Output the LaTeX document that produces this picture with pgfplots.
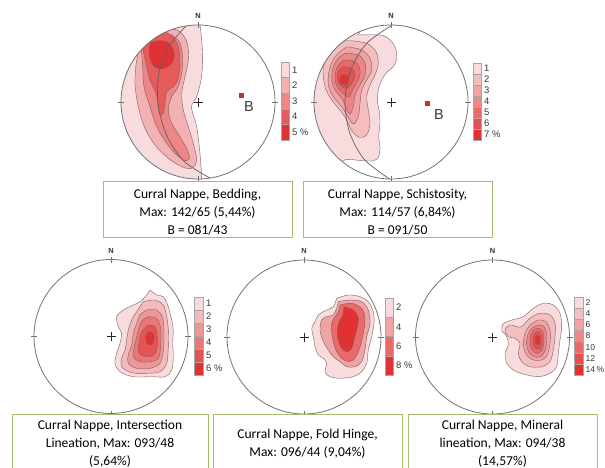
\documentclass[border=0pt]{standalone}
\usepackage{fontspec}
\setmainfont{Carlito}
\newfontfamily\arialf{Liberation Sans}
\usepackage{pgfplots}
\pgfplotsset{compat=1.18}
\definecolor{cL}{RGB}{248,219,221}
\definecolor{cD}{RGB}{224,50,50}
\definecolor{cline}{RGB}{125,95,95}
\definecolor{ringc}{RGB}{115,115,115}
\definecolor{boxg}{RGB}{160,192,110}
\definecolor{arcc}{RGB}{95,95,95}
\definecolor{labc}{RGB}{55,55,55}
\newcommand{\lev}[2]{\addplot[draw=cline,line width=0.4pt,fill=#1,smooth,tension=0.55] coordinates {#2} -- cycle;}
\newcommand{\netframe}[2]{%
  \draw[ringc,line width=0.8pt] (axis cs:#1,#2) circle[radius=77bp];
  \draw[ringc,line width=0.8pt] (axis cs:#1,#2) ++(-80bp,0) -- ++(6bp,0);
  \draw[ringc,line width=0.8pt] (axis cs:#1,#2) ++(74bp,0) -- ++(6bp,0);
  \draw[ringc,line width=0.8pt] (axis cs:#1,#2) ++(0,74bp) -- ++(0,6bp);
  \draw[ringc,line width=0.8pt] (axis cs:#1,#2) ++(0,-80bp) -- ++(0,6bp);
  \draw[black!85,line width=0.7pt] (axis cs:#1,#2) ++(-4.5bp,0) -- ++(9bp,0);
  \draw[black!85,line width=0.7pt] (axis cs:#1,#2) ++(0,-4.5bp) -- ++(0,9bp);
  \path (axis cs:#1,#2) ++(0,86bp) node[inner sep=0pt,font=\arialf\bfseries\fontsize{7.5}{7.5}\selectfont,text=black!80]{N};
}
\newcommand{\lgbox}[5]{\fill[#5,draw=gray!70,line width=0.3pt] (axis cs:#1,#2) rectangle (axis cs:#3,#4);}
\newcommand{\lglab}[3]{\node[anchor=west,inner sep=0pt,text=labc,font=\arialf\fontsize{9.5}{10}\selectfont] at (axis cs:#1,#2) {#3};}
\newcommand{\lglabs}[3]{\node[anchor=west,inner sep=0pt,text=labc,font=\arialf\fontsize{8.6}{9}\selectfont] at (axis cs:#1,#2) {#3};}
\begin{document}
\begin{tikzpicture}
\useasboundingbox (0,0) rectangle (605bp,468bp);
\clip (0,0) rectangle (605bp,468bp);
\begin{axis}[at={(0,0)},anchor=south west,width=605bp,height=468bp,scale only axis,
  xmin=0,xmax=605,ymin=0,ymax=468,y dir=reverse,hide axis,clip=false]
% ---------- Top-left: Bedding (5 levels)
\lev{cD!0!cL}{(200,25)(201.7,40)(202.7,60)(201,80)(196.7,96.7)(191.7,105)(192.7,113.3)(196.7,126.7)(199.3,146.7)(201,166.7)(201.7,178.3)(200,190)(155.5,175.6)(124.4,144.5)(113,102)(124.4,59.5)(155.5,28.4)(198,15)(200,25)}
\lev{cD!25!cL}{(150,33.3)(166.7,28.3)(180,31.7)(187.3,43.3)(188.3,60)(185,76.7)(181.7,93.3)(183.3,110)(188.3,126.7)(193.3,143.3)(196.7,160)(191.7,168.3)(181.7,166.7)(168.3,158.3)(155,145)(145,128.3)(138.3,106.7)(135,83.3)(136.7,60)(141.7,43.3)(150,33.3)}
\lev{cD!50!cL}{(145,40)(160,33.3)(171.7,35)(180,43.3)(182.7,58.3)(181.7,73.3)(178.3,86.7)(171.7,96.7)(168.3,110)(171.7,123.3)(180,136.7)(187.3,150)(189.3,158.3)(185,160.7)(176.7,155)(166.7,143.3)(156.7,126.7)(150,106.7)(144,86.7)(142.7,66.7)(141.7,50)(145,40)}
\lev{cD!75!cL}{(143.3,38.3)(161.7,31.7)(171.7,36)(178.3,46.7)(180,61.7)(178.3,78.3)(173.3,86.7)(166.7,91.7)(165,103.3)(163.3,113.3)(160,115)(158.3,106.7)(156,93.3)(150,80)(146.7,66.7)(143.3,50)(143.3,38.3)}
\lev{cD!100!cL}{(150,43.3)(158.3,40.7)(168.3,42.7)(174,51.7)(172.7,61.7)(166.7,67.3)(159.3,69)(152.7,65)(149.3,55)(150,43.3)}
% ---------- Top-right: Schistosity (7 levels)
\lev{cD!0!cL}{(358.3,35)(380,35)(388.3,38.3)(395,46.7)(396.7,58.3)(393.3,66.7)(387.3,71.7)(381.7,80)(378.3,90)(377.3,100)(379.3,111.7)(380,123.3)(378.7,136.7)(380,148.3)(378.3,157.3)(373.3,160.7)(361.7,160.7)(346.7,159.3)(330.9,162.1)(306,102)(330.9,41.9)(361.9,22.1)(358.3,35)}
\lev{cD!17!cL}{(341.7,41.7)(350,40.7)(366.7,43.3)(376,51.7)(378.3,63.3)(375,75)(370,85)(366.7,96.7)(368.3,110)(370,123.3)(366.7,135)(359.3,137.3)(351.7,130.7)(346.7,120)(340,110)(331.7,100)(325,86.7)(323.3,66.7)(331.7,50)(341.7,41.7)}
\lev{cD!33!cL}{(346.7,46.7)(361.7,50)(370,58.3)(371.7,70)(366.7,80)(361.7,90)(360,103.3)(358.3,116.7)(353.3,124)(348.3,117.3)(341.7,106.7)(333.3,96.7)(328.3,85)(329.3,70)(335,56.7)(346.7,46.7)}
\lev{cD!50!cL}{(345,53.3)(358.3,55)(365,63.3)(365,75)(360,85)(355,95)(353.3,106.7)(350,114)(346,107.3)(341.7,98.3)(335,90)(331.7,80)(333.3,66.7)(338.3,58.3)(345,53.3)}
\lev{cD!67!cL}{(343.3,60)(355,61.7)(360,70)(358.3,80)(353.3,88.3)(349.3,96.7)(345,95)(338.3,88.3)(335,80)(336.7,68.3)(343.3,60)}
\lev{cD!83!cL}{(342.7,66.7)(351.7,68.3)(355,75)(351.7,83.3)(346.7,88.3)(340.7,86)(337.3,79.3)(338.3,71.7)(342.7,66.7)}
\lev{cD!100!cL}{(341.7,75)(346.7,75)(348.3,80)(345,85)(340.7,83.3)(339.3,79)(341.7,75)}
% ---------- Bottom-left: Intersection lineation (6 levels)
\lev{cD!0!cL}{(150,290)(156.7,295)(163.3,296.7)(168.3,306.7)(171.7,320)(173.3,330)(172.7,343.3)(173.3,356.7)(171.7,370)(165,376.7)(151.7,376.7)(133.3,376.7)(120,371.7)(115,363.3)(116.7,353.3)(120,343.3)(121.7,333.3)(118.3,326.7)(116.7,316.7)(123.3,310)(133.3,305)(140,301.7)(146.7,295)(150,290)}
\lev{cD!20!cL}{(143.3,301.7)(155,300)(163.3,305)(166.7,316.7)(168.3,330)(168.3,346.7)(166.7,363.3)(160,371.7)(146.7,373.3)(131.7,372.7)(121.7,366.7)(121.7,358.3)(125,350)(126.7,340)(128.3,330)(131.7,320)(136.7,311.7)(143.3,301.7)}
\lev{cD!40!cL}{(146.7,310)(156.7,310)(162.7,318.3)(164,333.3)(163.3,350)(160,363.3)(150,368.3)(136.7,368.3)(128.3,363.3)(128.3,355)(131.7,345)(133.3,333.3)(136.7,323.3)(140,315)(146.7,310)}
\lev{cD!60!cL}{(148.3,316.7)(156.7,318.3)(160.7,328.3)(160.7,345)(158.3,358.3)(150,361.7)(140,361.7)(133.3,356.7)(134.3,346.7)(136.7,336.7)(139.3,326.7)(142.7,320)(148.3,316.7)}
\lev{cD!80!cL}{(148.3,325)(155,326.7)(157.3,336.7)(156.7,350)(151.7,356)(143.3,356)(138.3,351.7)(139.3,341.7)(141.7,331.7)(148.3,325)}
\lev{cD!100!cL}{(148.3,331.7)(153.3,333.3)(154,340)(150.7,345)(146.7,343.3)(145.7,336.7)(148.3,331.7)}
% ---------- Bottom-middle: Fold hinge (4 levels)
\lev{cD!0!cL}{(336.7,298.3)(348.3,295)(360,296.7)(368.3,301.7)(373.3,311.7)(374,323.3)(371.7,336.7)(368.3,350)(366.7,363.3)(361.7,371.7)(353.3,376.7)(340,378.3)(330,376.7)(325,371.7)(326.7,363.3)(323.3,358.3)(318.3,355)(315,346.7)(313.3,336.7)(311.7,328.3)(315,321.7)(318.3,315)(326.7,310)(333.3,306.7)(336.7,298.3)}
\lev{cD!33!cL}{(338.3,301.7)(350,300)(361.7,301.7)(368.3,310)(370,323.3)(366.7,336.7)(365,350)(361.7,361.7)(355,366.7)(346.7,366.7)(340,361.7)(333.3,356.7)(328.3,350)(323.3,341.7)(320,330)(321.7,320)(326.7,316.7)(333.3,315)(336.7,308.3)(338.3,301.7)}
\lev{cD!67!cL}{(340,305)(351.7,303.3)(361.7,308.3)(365,318.3)(363.3,333.3)(360,346.7)(355,358.3)(348.3,361.7)(341.7,358.3)(336.7,351.7)(333.3,341.7)(331.7,331.7)(331.7,323.3)(335,316.7)(338.3,311.7)(340,305)}
\lev{cD!100!cL}{(344,306.7)(353.3,310)(358.3,318.3)(356.7,330)(354,340)(351.7,348.3)(346.7,351.7)(341.7,348.3)(338.3,340)(337.3,330)(339.3,321.7)(342.7,315)(344,306.7)}
% ---------- Bottom-right: Mineral lineation (7 levels)
\lev{cD!0!cL}{(503.3,323.3)(511.7,320)(523.3,316.7)(533.3,308.3)(543.3,303.3)(553.3,305)(560,313.3)(561.7,326.7)(560,340)(558.3,353.3)(556.7,366.7)(550,373.3)(538.3,376.7)(523.3,374)(513.3,370)(506.7,363.3)(505,353.3)(508.3,345)(506.7,336.7)(501.7,330)(503.3,323.3)}
\lev{cD!17!cL}{(516.7,326.7)(521.7,326.7)(530,318.3)(540,313.3)(550,315)(555,323.3)(555,336.7)(553.3,350)(550,361.7)(541.7,366.7)(530,366.7)(521.7,361.7)(518.3,353.3)(520,343.3)(515,338.3)(508.3,336.7)(505,330)(510,325)(516.7,326.7)}
\lev{cD!33!cL}{(530,325)(538.3,320)(546,321.7)(550,330)(550,343.3)(547.3,355)(541.7,360)(533.3,360)(526.7,355)(523.3,345)(525,333.3)(530,325)}
\lev{cD!50!cL}{(531.7,328.3)(538.3,325)(544,326.7)(546.7,335)(546,346.7)(542.7,355)(536.7,357.3)(530,354)(526.7,345)(527.7,335)(531.7,328.3)}
\lev{cD!67!cL}{(533.3,330)(538.7,328.3)(542.7,331.7)(544,340)(542.3,349.3)(537.7,353.3)(532.7,350.7)(530,343.3)(530.7,335)(533.3,330)}
\lev{cD!83!cL}{(535,332.7)(539,331.7)(541.7,336.7)(541.7,345)(538.3,349.3)(534,346.7)(532.7,340)(535,332.7)}
\lev{cD!100!cL}{(536.7,335)(539.3,336)(540,341.7)(538,345)(535.7,342.7)(535.3,338.3)(536.7,335)}
% ---------- masks outside the top nets
\fill[white,even odd rule] (axis cs:198,102) circle[radius=77.4bp] (axis cs:198,102) circle[radius=95bp];
\fill[white,even odd rule] (axis cs:391,102) circle[radius=77.4bp] (axis cs:391,102) circle[radius=95bp];
% ---------- great circles
\addplot[arcc,line width=0.7pt,smooth] coordinates {(186,26)(166.9,49.2)(158.2,77.8)(158.6,108.2)(167.6,137.3)(184.7,161.9)(210,178)};
\addplot[arcc,line width=0.7pt,smooth] coordinates {(392.3,25)(366.4,43.6)(350.6,70.4)(345,101.2)(349.5,132.2)(364.3,159.5)(389.7,179)};
% ---------- B points
\addplot[only marks,mark=square*,mark size=2.3pt,color={rgb,255:red,205;green,45;blue,45}] coordinates {(241,95)(427,103)};
\node[font=\arialf\fontsize{14.5}{14.5}\selectfont,text=labc,inner sep=0pt] at (axis cs:249,106.5) {B};
\node[font=\arialf\fontsize{14.5}{14.5}\selectfont,text=labc,inner sep=0pt] at (axis cs:439,115) {B};
% ---------- frames
\netframe{198}{102}
\netframe{391}{102}
\netframe{111}{336.5}
\netframe{304}{337}
\netframe{492.5}{337}
% ---------- legends
\lgbox{281}{62}{289}{77.6}{cD!0!cL}\lgbox{281}{77.6}{289}{93.2}{cD!25!cL}\lgbox{281}{93.2}{289}{108.8}{cD!50!cL}\lgbox{281}{108.8}{289}{124.4}{cD!75!cL}\lgbox{281}{124.4}{289}{140}{cD!100!cL}
\lglab{292}{69.8}{1}\lglab{292}{85.4}{2}\lglab{292}{101}{3}\lglab{292}{116.6}{4}\lglab{292}{132.2}{5 \%}
\lgbox{473}{63}{481}{74}{cD!0!cL}\lgbox{473}{74}{481}{85}{cD!17!cL}\lgbox{473}{85}{481}{96}{cD!33!cL}\lgbox{473}{96}{481}{107}{cD!50!cL}\lgbox{473}{107}{481}{118}{cD!67!cL}\lgbox{473}{118}{481}{129}{cD!83!cL}\lgbox{473}{129}{481}{140}{cD!100!cL}
\lglab{484}{68.5}{1}\lglab{484}{79.5}{2}\lglab{484}{90.5}{3}\lglab{484}{101.5}{4}\lglab{484}{112.5}{5}\lglab{484}{123.5}{6}\lglab{484}{134.5}{7 \%}
\lgbox{194}{297}{203}{310}{cD!0!cL}\lgbox{194}{310}{203}{323}{cD!20!cL}\lgbox{194}{323}{203}{336}{cD!40!cL}\lgbox{194}{336}{203}{349}{cD!60!cL}\lgbox{194}{349}{203}{362}{cD!80!cL}\lgbox{194}{362}{203}{375}{cD!100!cL}
\lglab{206}{303.5}{1}\lglab{206}{316.5}{2}\lglab{206}{329.5}{3}\lglab{206}{342.5}{4}\lglab{206}{355.5}{5}\lglab{206}{368.5}{6 \%}
\lgbox{385}{298}{393}{317.25}{cD!0!cL}\lgbox{385}{317.25}{393}{336.5}{cD!33!cL}\lgbox{385}{336.5}{393}{355.75}{cD!67!cL}\lgbox{385}{355.75}{393}{375}{cD!100!cL}
\lglab{396}{307.6}{2}\lglab{396}{326.9}{4}\lglab{396}{346.1}{6}\lglab{396}{365.4}{8 \%}
\lgbox{574}{297}{583}{308.1}{cD!0!cL}\lgbox{574}{308.1}{583}{319.3}{cD!17!cL}\lgbox{574}{319.3}{583}{330.4}{cD!33!cL}\lgbox{574}{330.4}{583}{341.6}{cD!50!cL}\lgbox{574}{341.6}{583}{352.7}{cD!67!cL}\lgbox{574}{352.7}{583}{363.9}{cD!83!cL}\lgbox{574}{363.9}{583}{375}{cD!100!cL}
\lglabs{585.5}{302.6}{2}\lglabs{585.5}{313.7}{4}\lglabs{585.5}{324.9}{6}\lglabs{585.5}{336}{8}\lglabs{585.5}{347.1}{10}\lglabs{585.5}{358.3}{12}\lglabs{585.5}{369.4}{14\,\%}
% ---------- text boxes
\draw[boxg,fill=white,line width=0.9pt] (axis cs:103,181) rectangle (axis cs:292,237);
\draw[boxg,fill=white,line width=0.9pt] (axis cs:303,181) rectangle (axis cs:492,237);
\draw[boxg,fill=white,line width=0.9pt] (axis cs:12,414) rectangle (axis cs:208,480);
\draw[boxg,fill=white,line width=0.9pt] (axis cs:213,414) rectangle (axis cs:402,480);
\draw[boxg,fill=white,line width=0.9pt] (axis cs:408,414) rectangle (axis cs:597,480);
\node[align=center,inner sep=0pt,font=\fontsize{13.6}{18}\selectfont] at (axis cs:197.5,212) {Curral Nappe, Bedding,\\Max: 142/65 (5,44\%)\\B = 081/43};
\node[align=center,inner sep=0pt,font=\fontsize{13.6}{18}\selectfont] at (axis cs:397.5,212) {Curral Nappe, Schistosity,\\Max: 114/57 (6,84\%)\\B = 091/50};
\node[align=center,inner sep=0pt,font=\fontsize{13.6}{18}\selectfont] at (axis cs:110,444) {Curral Nappe, Intersection\\Lineation, Max: 093/48\\(5,64\%)};
\node[align=center,inner sep=0pt,font=\fontsize{13.6}{18}\selectfont] at (axis cs:307.5,444) {Curral Nappe, Fold Hinge,\\Max: 096/44 (9,04\%)};
\node[align=center,inner sep=0pt,font=\fontsize{13.6}{18}\selectfont] at (axis cs:502.5,444) {Curral Nappe, Mineral\\lineation, Max: 094/38\\(14,57\%)};
\end{axis}
\end{tikzpicture}
\end{document}
